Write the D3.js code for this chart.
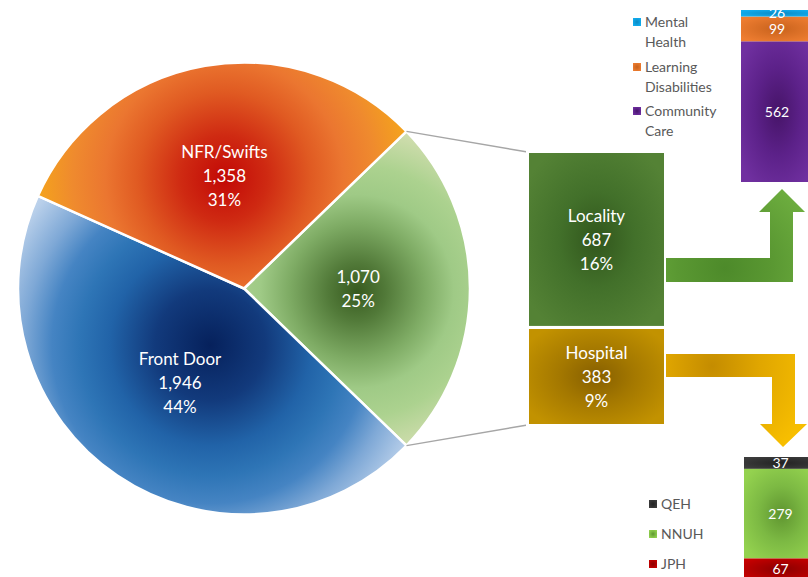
<!DOCTYPE html>
<html>
<head>
<meta charset="utf-8">
<script src="https://cdn.jsdelivr.net/npm/d3@7"></script>
<style>
  html, body { margin: 0; padding: 0; background: #fff; }
  svg { display: block; }
  text { font-family: Lato, "Noto Sans", sans-serif; }
</style>
</head>
<body>
<svg id="chart" width="808" height="577"></svg>
<script>
// Referral totals by route (pie), the "other" wedge is broken out into two boxes
const pieNames = ["", "Front Door", "NFR/Swifts"];
const pieValues = [1070, 1946, 1358];
const piePercents = ["25%", "44%", "31%"];

const breakoutNames = ["Locality", "Hospital"];
const breakoutValues = [687, 383];
const breakoutPercents = ["16%", "9%"];

// Locality split (top to bottom)
const localityNames = ["Mental Health", "Learning Disabilities", "Community Care"];
const localityValues = [26, 99, 562];

// Hospital split (top to bottom)
const hospitalNames = ["QEH", "NNUH", "JPH"];
const hospitalValues = [37, 279, 67];

const W = 808, H = 577;
const svg = d3.select("#chart");
const defs = svg.append("defs");

// radial gradient helper: stops = [[offset, colour], ...]
function radial(id, stops, opts = {}) {
  const g = defs.append("radialGradient").attr("id", id);
  Object.entries(opts).forEach(([k, v]) => g.attr(k, v));
  stops.forEach(([o, c]) => g.append("stop").attr("offset", o).attr("stop-color", c));
  return g;
}
const url = id => `url(#${id})`;

// ---------- pie ----------
const cx = 244, cy = 288.5, R = 226;
const total = d3.sum(pieValues);
const a0 = Math.PI / 2 - Math.PI * pieValues[0] / total;
const pie = d3.pie().sort(null).value(d => d).startAngle(a0).endAngle(a0 + 2 * Math.PI);
const arcs = pie(pieValues);
const arc = d3.arc().innerRadius(0).outerRadius(R);
const labelArc = d3.arc().innerRadius(R * 0.505).outerRadius(R * 0.505);

// each wedge gets a circular gradient centred on its bounding box,
// reaching the box corners at offset 1
const pieStops = [
  [[0, "#375a1f"], [0.15, "#527a39"], [0.35, "#7eab64"], [0.5, "#9fca86"], [0.65, "#acd28f"], [0.85, "#d0ddae"], [1, "#e6e9c6"]],
  [[0, "#06215c"], [0.22, "#123a7c"], [0.4, "#2163a8"], [0.52, "#2e75b6"], [0.63, "#4584c3"], [0.74, "#7ea8d6"], [0.88, "#b8cfea"], [1, "#d8e5f3"]],
  [[0, "#c20806"], [0.2, "#cf2a12"], [0.4, "#e05a22"], [0.55, "#eb7630"], [0.7, "#ef8a2e"], [0.85, "#f4a11e"], [1, "#f9b50c"]]
];
const centreNudge = [[0, 3], [-2, -10], [2, 3]];
const pieGrads = pieStops.map((s, i) => radial("gPie" + i, s, { gradientUnits: "userSpaceOnUse" }));

const gPie = svg.append("g").attr("transform", `translate(${cx},${cy})`);
gPie.selectAll("path").data(arcs).join("path")
  .attr("d", arc)
  .attr("fill", (d, i) => url("gPie" + i))
  .attr("stroke", "#fff").attr("stroke-width", 2.5).attr("stroke-linejoin", "round")
  .each(function (d, i) {
    const b = this.getBBox();
    pieGrads[i]
      .attr("cx", b.x + b.width / 2 + centreNudge[i][0])
      .attr("cy", b.y + b.height / 2 + centreNudge[i][1])
      .attr("r", Math.hypot(b.width, b.height) / 2);
  });

const fmt = d3.format(",");
arcs.forEach((d, i) => {
  const [lx, ly] = labelArc.centroid(d);
  const lines = [pieNames[i], fmt(pieValues[i]), piePercents[i]].filter(s => s);
  const t = gPie.append("text").attr("x", lx).attr("y", ly)
    .attr("text-anchor", "middle").attr("fill", "#fff").attr("font-size", 17);
  lines.forEach((s, k) => {
    t.append("tspan").attr("x", lx)
      .attr("y", ly + (k - (lines.length - 1) / 2) * 24)
      .attr("dy", "0.36em").text(s);
  });
});

// ---------- breakout boxes ----------
const boxX = 527.5, boxW = 138;
const yBox = d3.scaleLinear().domain([0, d3.sum(breakoutValues)]).range([425.5, 151.5]);

// connector lines from the wedge edges to the box corners
const other = arcs[0];
const edgePt = a => [cx + R * Math.sin(a), cy - R * Math.cos(a)];
const pTop = edgePt(other.startAngle), pBot = edgePt(other.endAngle);
svg.append("line").attr("x1", pTop[0]).attr("y1", pTop[1]).attr("x2", boxX).attr("y2", yBox.range()[1] + 0.5)
  .attr("stroke", "#a6a6a6").attr("stroke-width", 1.4);
svg.append("line").attr("x1", pBot[0]).attr("y1", pBot[1]).attr("x2", boxX).attr("y2", yBox.range()[0] - 0.5)
  .attr("stroke", "#a6a6a6").attr("stroke-width", 1.4);

radial("gLoc", [[0, "#31561c"], [0.45, "#42702a"], [1, "#548235"]], { r: 0.6 });
radial("gHosp", [[0, "#865f00"], [0.45, "#a47800"], [1, "#c29200"]], { r: 0.6 });
const boxFills = [url("gLoc"), url("gHosp")];
// Hospital sits at the bottom, Locality stacked on top
const boxOrder = [1, 0];
let acc = 0;
boxOrder.forEach(i => {
  const y0 = yBox(acc), y1 = yBox(acc + breakoutValues[i]);
  acc += breakoutValues[i];
  svg.append("rect").attr("x", boxX).attr("y", y1).attr("width", boxW).attr("height", y0 - y1)
    .attr("fill", boxFills[i]).attr("stroke", "#fff").attr("stroke-width", 3);
  const my = (y0 + y1) / 2;
  const t = svg.append("text").attr("text-anchor", "middle").attr("fill", "#fff").attr("font-size", 17);
  [breakoutNames[i], fmt(breakoutValues[i]), breakoutPercents[i]].forEach((s, k) => {
    t.append("tspan").attr("x", boxX + boxW / 2).attr("y", my + (k - 1) * 24).attr("dy", "0.36em").text(s);
  });
});

// ---------- bent arrows ----------
const greenArrow = [[666, 258], [770, 258], [770, 212], [759, 212], [782, 189], [805, 212], [793, 212], [793, 282], [666, 282]];
const goldArrow = [[666, 354], [795, 354], [795, 424], [807, 424], [783, 447], [760, 424], [772, 424], [772, 377], [666, 377]];
const line = d3.line();
radial("gArrG", [[0, "#4d8a2a"], [0.5, "#5a9832"], [1, "#6cac3e"]],
  { gradientUnits: "userSpaceOnUse", cx: 725, cy: 268, r: 95 });
radial("gArrY", [[0, "#c48c00"], [0.45, "#e0a600"], [1, "#f7be00"]],
  { gradientUnits: "userSpaceOnUse", cx: 712, cy: 366, r: 105 });
svg.append("path").attr("d", line(greenArrow) + "Z").attr("fill", url("gArrG"));
svg.append("path").attr("d", line(goldArrow) + "Z").attr("fill", url("gArrY"));

// ---------- stacked breakdown bars ----------
function stackedBar(values, fills, x, w, yScale, topDown) {
  let run = 0;
  const order = topDown ? values.map((_, i) => i) : values.map((_, i) => values.length - 1 - i);
  order.forEach(i => {
    const a = yScale(run), b = yScale(run + values[i]);
    run += values[i];
    const top = Math.min(a, b), h = Math.abs(b - a);
    svg.append("rect").attr("x", x).attr("y", top).attr("width", w).attr("height", h).attr("fill", fills[i]);
    svg.append("text").attr("x", x + w / 2 - 1).attr("y", top + h / 2).attr("dy", "0.36em")
      .attr("text-anchor", "middle").attr("fill", "#fff").attr("font-size", 14).text(values[i]);
  });
}

radial("gMH", [[0, "#0a8ac4"], [1, "#12aef0"]], { r: 0.6 });
radial("gLD", [[0, "#c8621c"], [1, "#ee7d31"]], { r: 0.6 });
radial("gCC", [[0, "#461468"], [0.5, "#5c2189"], [1, "#7030a0"]], { r: 0.62 });
radial("gQEH", [[0, "#222"], [1, "#3c3c3c"]], { r: 0.6 });
radial("gNNUH", [[0, "#5f9530"], [0.5, "#7cb943"], [1, "#94d24f"]], { r: 0.62 });
radial("gJPH", [[0, "#8a0000"], [1, "#c50000"]], { r: 0.6 });
const locFills = ["gMH", "gLD", "gCC"].map(url);
const hosFills = ["gQEH", "gNNUH", "gJPH"].map(url);

const yTop = d3.scaleLinear().domain([0, d3.sum(localityValues)]).range([182, 10]);
stackedBar(localityValues, locFills, 741, 74, yTop, false);

const yBot = d3.scaleLinear().domain([0, d3.sum(hospitalValues)]).range([457, 580]);
stackedBar(hospitalValues, hosFills, 744, 75, yBot, true);

// ---------- legends ----------
function legend(names, fills, x, ys) {
  names.forEach((n, i) => {
    svg.append("rect").attr("x", x).attr("y", ys[i] - 4).attr("width", 8).attr("height", 8).attr("fill", fills[i]);
    const t = svg.append("text").attr("fill", "#595959").attr("font-size", 14);
    n.split(" ").forEach((wd, k) => {
      t.append("tspan").attr("x", x + 12).attr("y", ys[i] + k * 20).attr("dy", "0.36em").text(wd);
    });
  });
}
legend(localityNames, locFills, 633, [22, 67, 111]);
legend(hospitalNames, hosFills, 649, [504, 534, 564]);
</script>
</body>
</html>
